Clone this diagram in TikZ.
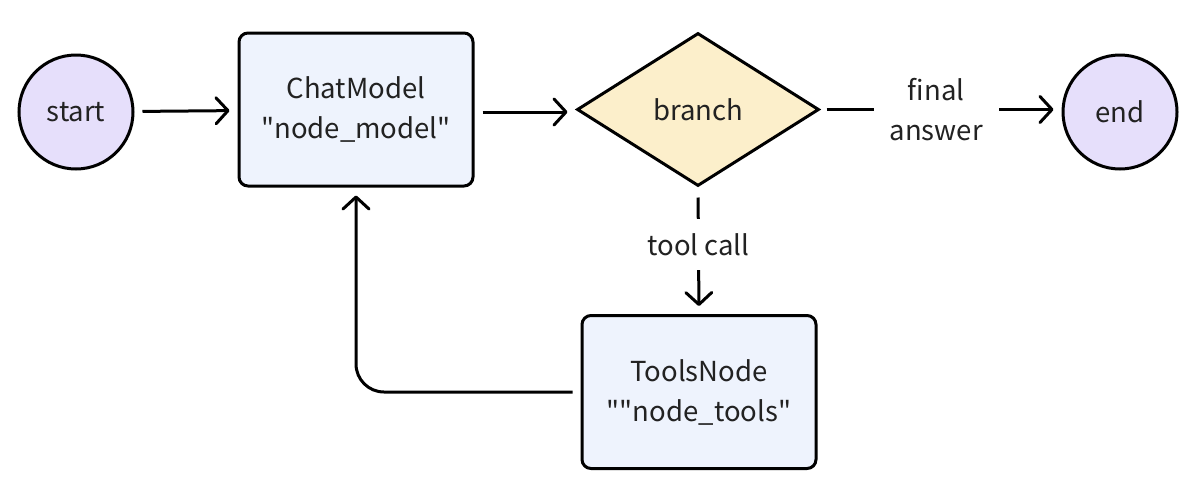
\documentclass[tikz,border=0pt]{standalone}
\usepackage{fontspec}
\setmainfont{Noto Sans CJK SC}[Ligatures=TeXOff]
\usetikzlibrary{shapes.geometric,arrows.meta,positioning}
\definecolor{circfill}{HTML}{E6DFFB}
\definecolor{boxfill}{HTML}{EEF3FD}
\definecolor{diafill}{HTML}{FCEFCB}
\definecolor{ink}{HTML}{222222}
\newcommand{\dq}{\symbol{34}}
\begin{document}
\begin{tikzpicture}[x=1pt,y=-1pt,
  every node/.style={font=\fontsize{27.5}{40}\selectfont, text=ink, align=center},
  term/.style={circle, draw=black, line width=3pt, fill=circfill, minimum size=114pt, inner sep=0pt},
  procbox/.style={rectangle, rounded corners=9pt, draw=black, line width=3pt, fill=boxfill, minimum width=234pt, minimum height=153pt, inner sep=0pt},
  decision/.style={diamond, draw=black, line width=3pt, fill=diafill, minimum width=242pt, minimum height=153pt, aspect=1.58, inner sep=0pt},
  conn/.style={line width=3pt, draw=black, -{Straight Barb[length=12pt,width=26pt,round]}, shorten >=8pt, shorten <=8pt},
  lbl/.style={fill=white, inner xsep=16pt, inner ysep=14pt}
]
\useasboundingbox (0,0) rectangle (1198,493);
\node[term] (start) at (76,112) {start};
\node[procbox] (chat) at (356,109.5) {ChatModel\\\dq node\_model\dq};
\node[decision] (branch) at (698,109.5) {branch};
\node[term] (end) at (1120,112) {end};
\node[procbox] (tools) at (699,392) {ToolsNode\\\dq\dq node\_tools\dq};

\draw[conn] (start) -- (chat);
\draw[conn] (chat.east |- start) -- (branch.west |- start);
\draw[conn, shorten <=6pt] (branch.east) -- node[lbl, pos=0.48] (fa) {final\\answer} (end.west |- branch.east);
\draw[conn, shorten <=10pt] (branch.south) -- node[lbl, pos=0.45, inner xsep=4pt, inner ysep=14pt] (tc) {tool call} (tools.north);
\draw[conn, rounded corners=28pt] (tools.west) -| (chat.south);
\end{tikzpicture}
\end{document}
